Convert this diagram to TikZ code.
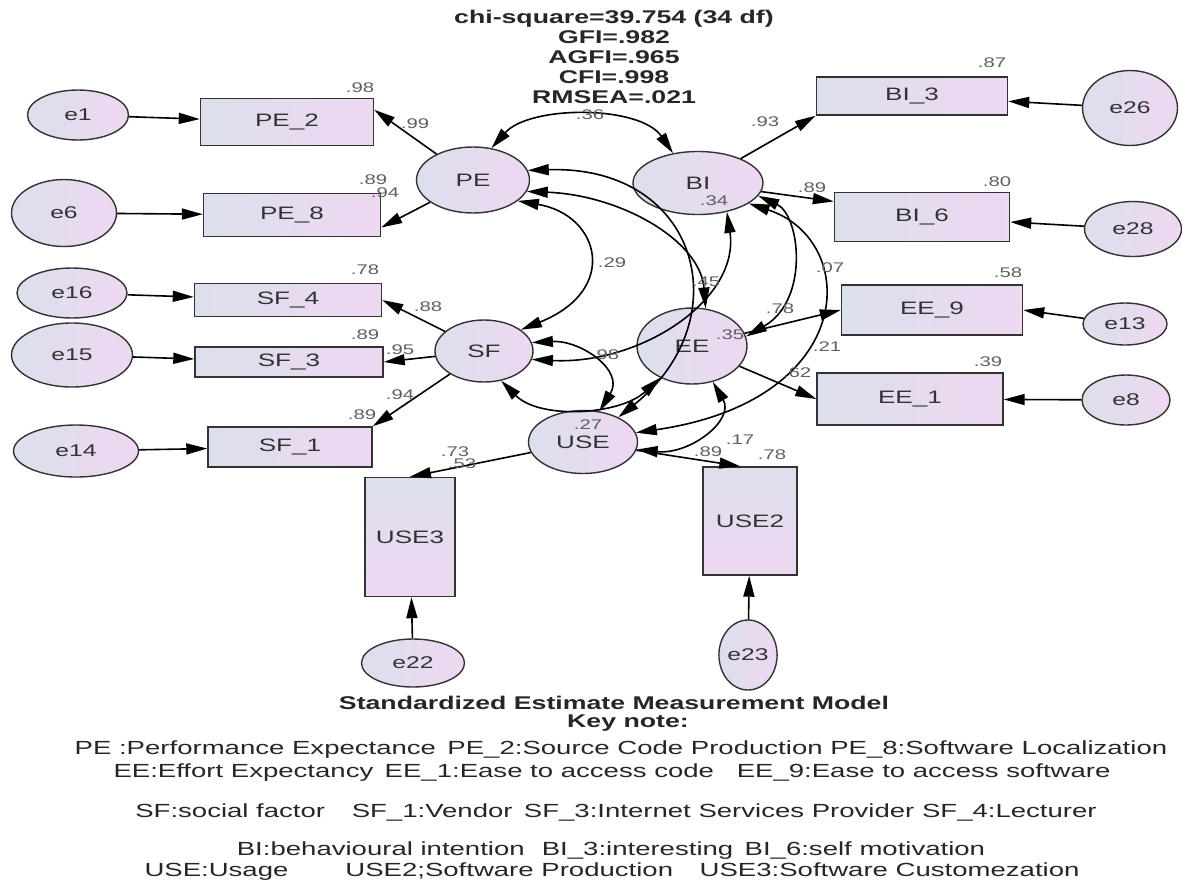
\documentclass[tikz,border=0pt]{standalone}
\usepackage{fontspec}
\setmainfont{Liberation Sans}[FakeStretch=1.45]
\usetikzlibrary{shapes.geometric, arrows.meta}
\definecolor{fillL}{RGB}{220,223,236}
\definecolor{fillR}{RGB}{238,216,242}
\definecolor{numGray}{RGB}{95,95,95}
\tikzstyle{item} = [rectangle, draw=black!80, line width=1.4pt, inner sep=0pt, left color=fillL, right color=fillR, text=black!80, font=\fontsize{18}{20}\selectfont]
\tikzstyle{itemV} = [rectangle, draw=black!80, line width=1.4pt, inner sep=0pt, top color=fillL, bottom color=fillR, text=black!80, font=\fontsize{18}{20}\selectfont]
\tikzstyle{latent} = [ellipse, draw=black!80, line width=1.4pt, inner sep=0pt, left color=fillL, right color=fillR, text=black!80, font=\fontsize{18}{20}\selectfont]
\tikzstyle{errNode} = [ellipse, draw=black!80, line width=1.4pt, inner sep=0pt, left color=fillL, right color=fillR, text=black!80, font=\fontsize{17}{20}\selectfont]
\tikzstyle{est} = [inner sep=0pt, text=numGray, font=\fontsize{14}{14}\selectfont]
\tikzstyle{stats} = [inner sep=0pt, align=center, text=black!85, font=\bfseries\fontsize{18.4}{20}\selectfont]
\tikzstyle{keyLine} = [inner sep=0pt, text=black!85, font=\fontsize{19}{20}\selectfont]
\tikzstyle{arrow} = [line width=1.6pt, -{Triangle[length=21pt,width=11pt]}]
\tikzstyle{covArrow} = [line width=1.6pt, {Triangle[length=21pt,width=11pt]}-{Triangle[length=21pt,width=11pt]}]

\begin{document}
\begin{tikzpicture}[x=1pt, y=-1pt]
    \useasboundingbox (0,0) rectangle (1182,884);

    % fit indices
    \node (fitStats) [stats] at (614,57) {chi-square=39.754 (34 df)\\GFI=.982\\AGFI=.965\\CFI=.998\\RMSEA=.021};

    % latent variables
    \node (pe) [latent, minimum width=113, minimum height=66] at (473,180) {PE};
    \node (bi) [latent, minimum width=130, minimum height=63] at (698,183) {BI};
    \node (sf) [latent, minimum width=98, minimum height=62] at (484,351) {SF};
    \node (ee) [latent, minimum width=110, minimum height=76] at (692,346) {EE};
    \node (use) [latent, minimum width=109, minimum height=63] at (583,442) {USE};

    % observed items
    \node (pe2) [item, minimum width=173, minimum height=47] at (287,122) {PE\_2};
    \node (pe8) [item, minimum width=177, minimum height=43] at (292,215) {PE\_8};
    \node (sf4) [item, minimum width=187, minimum height=33] at (288,300) {SF\_4};
    \node (sf3) [item, minimum width=188, minimum height=30] at (289,362) {SF\_3};
    \node (sf1) [item, minimum width=164, minimum height=40] at (290,447) {SF\_1};
    \node (bi3) [item, minimum width=191, minimum height=38] at (912,96) {BI\_3};
    \node (bi6) [item, minimum width=175, minimum height=49] at (922,217) {BI\_6};
    \node (ee9) [item, minimum width=181, minimum height=50] at (932,310) {EE\_9};
    \node (ee1) [item, minimum width=186, minimum height=52] at (910,399) {EE\_1};
    \node (use3) [itemV, minimum width=90, minimum height=119] at (410,537) {USE3};
    \node (use2) [itemV, minimum width=94, minimum height=108] at (750,521) {USE2};

    % error terms
    \node (e1) [errNode, minimum width=101, minimum height=50] at (78,115) {e1};
    \node (e6) [errNode, minimum width=105, minimum height=67] at (64,213) {e6};
    \node (e16) [errNode, minimum width=110, minimum height=50] at (72,293) {e16};
    \node (e15) [errNode, minimum width=121, minimum height=64] at (72,355) {e15};
    \node (e14) [errNode, minimum width=125, minimum height=52] at (76,451) {e14};
    \node (e26) [errNode, minimum width=95, minimum height=75] at (1130,108) {e26};
    \node (e28) [errNode, minimum width=97, minimum height=55] at (1133,229) {e28};
    \node (e13) [errNode, minimum width=84, minimum height=42] at (1125,324) {e13};
    \node (e8) [errNode, minimum width=88, minimum height=50] at (1126,400) {e8};
    \node (e22) [errNode, minimum width=103, minimum height=48] at (413,663) {e22};
    \node (e23) [errNode, minimum width=45, minimum height=70] at (748,655) {e23};

    % error paths
    \draw[arrow] (e1) -- (pe2);
    \draw[arrow] (e6) -- (pe8);
    \draw[arrow] (e16) -- (sf4);
    \draw[arrow] (e15) -- (sf3);
    \draw[arrow] (e14) -- (sf1);
    \draw[arrow] (e26) -- (bi3);
    \draw[arrow] (e28) -- (bi6);
    \draw[arrow] (e13) -- (ee9.east);
    \draw[arrow] (e8) -- (ee1);
    \draw[arrow] (e22) -- (use3);
    \draw[arrow] (e23) -- (use2);

    % loadings
    \draw[arrow] (pe) -- (pe2.8);
    \draw[arrow] (pe) -- (pe8.-8);
    \draw[arrow] (sf) -- (sf4.east);
    \draw[arrow] (sf) -- (sf3.east);
    \draw[arrow] (sf) -- (sf1.north east);
    \draw[arrow] (bi) -- (bi3.south west);
    \draw[arrow] (bi) -- (bi6.170);
    \draw[arrow] (ee) -- (ee9.west);
    \draw[arrow] (ee) -- (ee1.west);
    \draw[arrow] (use) -- (use3.north);
    \draw[arrow] (use) -- (use2.100);

    % covariances
    \draw[covArrow] (pe.60) .. controls (530,105) and (640,105) .. (bi.130);
    \draw[covArrow] (pe.-25) .. controls (600,215) and (620,290) .. (sf.30);
    \draw[covArrow] (pe.-12) .. controls (620,195) and (700,240) .. (ee.70);
    \draw[covArrow] (pe.10) .. controls (700,165) and (740,320) .. (use.35);
    \draw[covArrow] (sf.-10) .. controls (640,365) and (740,300) .. (bi.-45);
    \draw[covArrow] (bi.-12) .. controls (800,215) and (810,300) .. (ee.10);
    \draw[covArrow] (bi.-22) .. controls (860,240) and (860,400) .. (use.10);
    \draw[covArrow] (sf.-60) .. controls (540,420) and (620,415) .. (ee.-135);
    \draw[covArrow] (sf.10) .. controls (580,340) and (625,370) .. (use.62);
    \draw[covArrow] (ee.-60) .. controls (735,420) and (690,455) .. (use.-8);

    % estimates
    \node (rPe2) [est] at (360,88) {.98};
    \node (lPe2) [est] at (415,124) {.99};
    \node (rPe8) [est] at (373,180) {.89};
    \node (lPe8) [est] at (385,193) {.94};
    \node (rSf4) [est] at (365,270) {.78};
    \node (lSf4) [est] at (428,307) {.88};
    \node (rSf3) [est] at (365,335) {.89};
    \node (lSf3) [est] at (400,350) {.95};
    \node (lSf1) [est] at (400,395) {.94};
    \node (rSf1) [est] at (362,415) {.89};
    \node (rUse3) [est] at (455,452) {.73};
    \node (lUse3) [est] at (462,464) {.53};
    \node (cUse) [est] at (588,425) {.27};
    \node (cPeBi) [est] at (590,115) {.36};
    \node (cPeSf) [est] at (612,263) {.29};
    \node (cPeEe) [est] at (706,282) {.45};
    \node (cSfBi) [est] at (605,355) {.98};
    \node (cEe) [est] at (730,335) {.35};
    \node (cBi) [est] at (714,201) {.34};
    \node (lBi3) [est] at (765,122) {.93};
    \node (lBi6) [est] at (812,188) {.89};
    \node (rBi3) [est] at (992,63) {.87};
    \node (rBi6) [est] at (997,182) {.80};
    \node (cBiEe) [est] at (830,268) {.07};
    \node (rEe9) [est] at (1008,273) {.58};
    \node (lEe9) [est] at (780,309) {.78};
    \node (cBiUse) [est] at (827,347) {.21};
    \node (lEe1) [est] at (797,373) {.62};
    \node (rEe1) [est] at (988,362) {.39};
    \node (cEeUse) [est] at (740,440) {.17};
    \node (lUse2) [est] at (708,452) {.89};
    \node (rUse2) [est] at (772,455) {.78};

    % key note
    \node (keyTitle) [stats] at (614,703) {Standardized Estimate Measurement Model};
    \node (keyHead) [stats] at (628,723) {Key note:};
    \node (keyPe) [keyLine] at (621,750) {PE :Performance Expectance\hspace{0.6em}PE\_2:Source Code Production PE\_8:Software Localization};
    \node (keyEe) [keyLine] at (612,773) {EE:Effort Expectancy\hspace{0.6em}EE\_1:Ease to access code\hspace{1.2em}EE\_9:Ease to access software};
    \node (keySf) [keyLine] at (616,812) {SF:social factor\hspace{1.4em}SF\_1:Vendor\hspace{0.6em}SF\_3:Internet Services Provider SF\_4:Lecturer};
    \node (keyBi) [keyLine] at (611,851) {BI:behavioural intention\hspace{0.9em}BI\_3:interesting\hspace{0.6em}BI\_6:self motivation};
    \node (keyUse) [keyLine] at (612,872) {USE:Usage\hspace{3em}USE2;Software Production\hspace{1.4em}USE3:Software Customezation};

\end{tikzpicture}
\end{document}
